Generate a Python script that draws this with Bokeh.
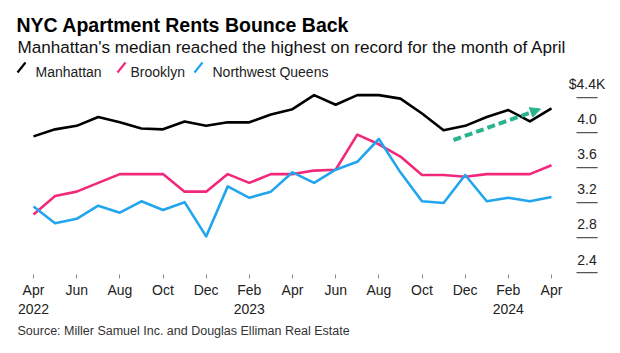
from bokeh.plotting import figure
from bokeh.models import Range1d, FixedTicker, Label, Arrow, NormalHead, Title
from bokeh.core.properties import value
from bokeh.embed import file_html
from bokeh.resources import INLINE

# ---- data (monthly, Apr 2022 .. Apr 2024), $ thousands ----
months = list(range(25))
manhattan = [3.94, 4.02, 4.06, 4.16, 4.10, 4.03, 4.02, 4.11, 4.06, 4.10, 4.10, 4.19, 4.25,
             4.41, 4.30, 4.41, 4.41, 4.37, 4.20, 4.01, 4.06, 4.16, 4.24, 4.11, 4.26]
brooklyn = [3.05, 3.26, 3.31, 3.41, 3.51, 3.51, 3.51, 3.31, 3.31, 3.51, 3.41, 3.51, 3.51,
            3.55, 3.56, 3.96, 3.85, 3.71, 3.50, 3.50, 3.48, 3.51, 3.51, 3.51, 3.61]
queens = [3.14, 2.95, 3.00, 3.15, 3.07, 3.20, 3.10, 3.19, 2.80, 3.37, 3.24, 3.31, 3.53,
          3.41, 3.56, 3.65, 3.91, 3.53, 3.20, 3.18, 3.50, 3.20, 3.24, 3.20, 3.25]
x_ticks = list(range(0, 25, 2))
x_tick_labels = ["Apr\n2022", "Jun", "Aug", "Oct", "Dec", "Feb\n2023", "Apr", "Jun", "Aug",
                 "Oct", "Dec", "Feb\n2024", "Apr"]
y_ticks = [2.4, 2.8, 3.2, 3.6, 4.0, 4.4]
y_tick_labels = ["2.4", "2.8", "3.2", "3.6", "4.0", "$4.4K"]
series_names = ["Manhattan", "Brooklyn", "Northwest Queens"]
colors = ["#000000", "#f2297a", "#22a5ee"]

FONT = "Liberation Sans"
W, H = 620, 353
FRAME_BOTTOM = 274
# pixel mapping: month 0 at x=33, month 24 at x=551; 4.4 at y=95.5, 87.75 px per unit
PXM = (551 - 33) / 24.0
PXV = 87.75
X0 = -33 / PXM
X1 = (W - 33) / PXM
Y1 = 4.4 + 95.5 / PXV
Y0 = 4.4 - (FRAME_BOTTOM - 95.5) / PXV


def xd(px):
    return (px - 33) / PXM


def yd(py):
    return 4.4 - (py - 95.5) / PXV


p = figure(width=W, height=H, output_backend="svg", toolbar_location=None,
           x_range=Range1d(X0, X1), y_range=Range1d(Y0, Y1),
           min_border_left=0, min_border_right=0, min_border_top=0,
           min_border_bottom=H - FRAME_BOTTOM, y_axis_location=None)
p.outline_line_color = None
p.xgrid.visible = False
p.ygrid.visible = False
p.background_fill_color = "white"
p.border_fill_color = "white"

# x axis
ax = p.xaxis[0]
ax.ticker = FixedTicker(ticks=x_ticks)
ax.major_label_overrides = {t: l for t, l in zip(x_ticks, x_tick_labels)}
ax.axis_line_color = None
ax.major_tick_in = 0
ax.major_tick_out = 4
ax.major_tick_line_color = "#888888"
ax.minor_tick_line_color = None
ax.major_label_standoff = 3
ax.major_label_text_font = FONT
ax.major_label_text_font_size = "14px"
ax.major_label_text_color = "#222222"

# source line under the axis
p.add_layout(Title(text="Source: Miller Samuel Inc. and Douglas Elliman Real Estate",
                   align="left", offset=17, standoff=4, text_font=FONT,
                   text_font_size="12.5px", text_font_style="normal",
                   text_color="#333333"), "below")

# y "axis" on the right: label with a short rule under it
n = len(y_ticks)
p.text(x=[xd(586.5)] * n, y=y_ticks, text=["\u2014"] * n, text_align="center",
       text_baseline="alphabetic", y_offset=-1, text_font=value(FONT),
       text_font_size="21px", text_color="#555555")
p.text(x=[xd(586.5)] * n, y=y_ticks, text=y_tick_labels, text_align="center",
       text_baseline="middle", y_offset=-12, text_font=value(FONT),
       text_font_size="14px", text_color="#222222")

# lines
for vals, c in zip([manhattan, brooklyn, queens], colors):
    p.line(months, vals, line_color=c, line_width=2.6, line_join="round")

# arrow annotation
ac = "#2ab38d"
p.add_layout(Arrow(end=NormalHead(size=10, fill_color=ac, line_color=ac),
                   x_start=xd(453), y_start=yd(139.5), x_end=xd(540), y_end=yd(108.5),
                   line_color=ac, line_width=4, line_dash="8 4"))


# titles (screen units relative to frame bottom-left)
def lab(text, x, base_y, size, style="normal", color="#111111"):
    p.add_layout(Label(x=x, y=FRAME_BOTTOM - base_y, x_units="screen", y_units="screen",
                       text=text, text_font=FONT, text_font_size=size,
                       text_font_style=style, text_color=color, text_baseline="alphabetic"))


lab("NYC Apartment Rents Bounce Back", 16, 24, "19.5px", "bold", "#000000")
lab("Manhattan's median reached the highest on record for the month of April", 17, 46.5, "17.1px")
leg_x = [17, 117, 194]
leg_tx = [35, 130, 212]
for name, c, sx, tx in zip(series_names, colors, leg_x, leg_tx):
    p.segment(x0=[xd(sx)], y0=[yd(72)], x1=[xd(sx + 8)], y1=[yd(62)], line_color=c, line_width=2.2)
    lab(name, tx, 71.7, "14px", color="#222222")

open("out.html", "w").write(file_html(p, INLINE))
